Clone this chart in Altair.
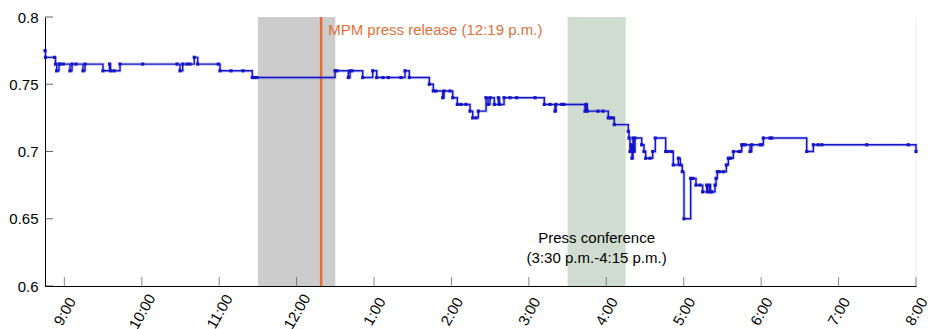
import altair as alt
import pandas as pd

DAY = "2020-01-01"

# Intraday quotes (24h clock) and traded level
times = [
    "08:45:00", "08:45:23", "08:52:22", "08:53:08", "08:54:04", "08:55:51", "08:56:38", "08:59:11",
    "09:04:22", "09:05:55", "09:09:01", "09:14:27", "09:16:00", "09:29:57", "09:35:00", "09:35:46",
    "09:38:28", "09:43:08", "10:00:43", "10:27:18", "10:29:38", "10:31:43", "10:35:03", "10:37:22",
    "10:40:42", "10:43:20", "10:59:18", "11:00:37", "11:09:09", "11:18:27", "11:25:39", "11:27:21",
    "11:29:18", "12:29:45", "12:31:18", "12:40:03", "12:41:22", "12:42:55", "12:51:13", "12:58:58",
    "13:02:04", "13:06:57", "13:11:03", "13:20:54", "13:24:00", "13:27:20", "13:42:50", "13:45:56",
    "13:48:01", "13:53:13", "13:54:13", "13:58:52", "14:00:58", "14:04:32", "14:07:24", "14:11:17",
    "14:14:23", "14:16:28", "14:19:02", "14:20:49", "14:26:47", "14:28:20", "14:29:53", "14:33:13",
    "14:36:19", "14:37:15", "14:40:44", "14:45:23", "14:50:34", "15:04:45", "15:11:57", "15:16:22",
    "15:20:15", "15:21:02", "15:25:27", "15:27:14", "15:43:30", "15:44:16", "15:45:17", "15:53:34",
    "15:57:27", "16:01:33", "16:03:13", "16:05:09", "16:06:10", "16:17:01", "16:17:34", "16:18:21",
    "16:19:08", "16:19:54", "16:20:41", "16:21:27", "16:22:14", "16:27:25", "16:29:12", "16:30:31",
    "16:33:51", "16:35:56", "16:37:57", "16:46:01", "16:47:48", "16:50:40", "16:51:54", "16:55:47",
    "16:57:20", "16:58:53", "17:00:12", "17:05:23", "17:07:10", "17:09:30", "17:12:36", "17:14:41",
    "17:17:47", "17:18:34", "17:19:58", "17:20:45", "17:21:55", "17:24:15", "17:25:01", "17:26:02",
    "17:27:35", "17:30:41", "17:33:01", "17:34:34", "17:36:17", "17:38:26", "17:42:51", "17:43:38",
    "17:44:57", "17:45:58", "17:47:31", "17:51:23", "17:52:42", "17:59:08", "18:00:27", "18:01:41",
    "18:06:52", "18:08:11", "18:35:19", "18:40:26", "18:44:04", "18:46:56", "19:21:48", "19:54:02",
    "20:00:00",
]
prices = [
    0.775, 0.77, 0.77, 0.765, 0.76, 0.765, 0.765, 0.765,
    0.76, 0.765, 0.765, 0.76, 0.765, 0.76, 0.765, 0.76,
    0.76, 0.765, 0.765, 0.765, 0.76, 0.765, 0.765, 0.765,
    0.77, 0.765, 0.765, 0.76, 0.76, 0.76, 0.755, 0.755,
    0.755, 0.76, 0.76, 0.755, 0.76, 0.76, 0.755, 0.76,
    0.755, 0.755, 0.755, 0.755, 0.76, 0.755, 0.75, 0.745,
    0.745, 0.74, 0.745, 0.745, 0.74, 0.735, 0.735, 0.735,
    0.73, 0.725, 0.725, 0.73, 0.74, 0.735, 0.74, 0.735,
    0.74, 0.735, 0.74, 0.74, 0.74, 0.74, 0.735, 0.735,
    0.73, 0.735, 0.735, 0.735, 0.73, 0.735, 0.73, 0.73,
    0.73, 0.725, 0.725, 0.725, 0.72, 0.715, 0.71, 0.70,
    0.705, 0.695, 0.71, 0.70, 0.71, 0.705, 0.70, 0.695,
    0.695, 0.70, 0.71, 0.70, 0.70, 0.70, 0.69, 0.695,
    0.69, 0.685, 0.65, 0.68, 0.68, 0.675, 0.675, 0.67,
    0.675, 0.67, 0.675, 0.67, 0.67, 0.675, 0.68, 0.685,
    0.685, 0.685, 0.69, 0.695, 0.695, 0.70, 0.70, 0.70,
    0.705, 0.705, 0.705, 0.70, 0.705, 0.705, 0.705, 0.71,
    0.71, 0.71, 0.70, 0.705, 0.705, 0.705, 0.705, 0.705,
    0.70,
]

# Shaded event windows
band_start = ["11:30", "15:30"]
band_end = ["12:30", "16:15"]
band_color = ["#cccccc", "#cfdccf"]

release_time = "12:19"
release_label = "MPM press release (12:19 p.m.)"
conference_time = "15:52:30"
conference_label = ["Press conference", "(3:30 p.m.-4:15 p.m.)"]

hour_ticks = [9, 10, 11, 12, 13, 14, 15, 16, 17, 18, 19, 20]
y_ticks = [0.6, 0.65, 0.7, 0.75, 0.8]

FONT = "Liberation Sans"
LINE_BLUE = "#1414c8"
ORANGE = "#e0703a"


def stamp(hhmm):
    return f"{DAY}T{hhmm}" if hhmm.count(":") == 2 else f"{DAY}T{hhmm}:00"


def dt(h, m=0):
    return alt.DateTime(year=2020, month=1, date=1, hours=h, minutes=m)


quotes = pd.DataFrame({"t": [stamp(s) for s in times], "price": prices})
bands = pd.DataFrame({
    "start": [stamp(s) for s in band_start],
    "end": [stamp(s) for s in band_end],
    "color": band_color,
})
release = pd.DataFrame({"t": [stamp(release_time)], "y": [0.79], "label": [release_label]})
conference = pd.DataFrame({"t": [stamp(conference_time)], "y": [0.6355], "label": [conference_label]})
xticks = pd.DataFrame({"t": [stamp(f"{h:02d}:00") for h in hour_ticks]})
yticks = pd.DataFrame({"v": y_ticks})
frame = pd.DataFrame({"t": [stamp("20:00")]})

x_scale = alt.Scale(domain=[dt(8, 45), dt(20, 0)])
y_scale = alt.Scale(domain=[0.6, 0.8], nice=False, zero=False)

x_axis = alt.Axis(
    values=[dt(h) for h in hour_ticks], format="%-I:%M", title=None,
    labelAngle=-60, labelAlign="center", labelBaseline="middle", labelPadding=25,
    ticks=False, grid=False, domainColor="black", labelFlush=False, labelOverlap=False,
)
y_axis = alt.Axis(
    values=y_ticks, format=".2~f", title=None, ticks=False, grid=False,
    labelPadding=7, domainColor="black", labelFlush=False,
)

band_layer = alt.Chart(bands).mark_rect().encode(
    x=alt.X("start:T", scale=x_scale, axis=x_axis),
    x2="end:T",
    color=alt.Color("color:N", scale=None),
)

edge_layer = alt.Chart(frame).mark_rule(color="#eeeeee", strokeWidth=1).encode(
    x=alt.X("t:T", scale=x_scale),
)

release_rule = alt.Chart(release).mark_rule(color=ORANGE, strokeWidth=2.5).encode(
    x=alt.X("t:T", scale=x_scale),
)

halo = alt.Chart(quotes).mark_line(
    interpolate="step-after", color="#5a5ae0", strokeWidth=3.2, opacity=0.3,
).encode(
    x=alt.X("t:T", scale=x_scale),
    y=alt.Y("price:Q", scale=y_scale, axis=y_axis),
)

line = alt.Chart(quotes).mark_line(
    interpolate="step-after", color=LINE_BLUE, strokeWidth=1.4,
).encode(
    x=alt.X("t:T", scale=x_scale),
    y=alt.Y("price:Q", scale=y_scale),
)

dots = alt.Chart(quotes).mark_point(
    filled=True, size=10, color=LINE_BLUE, opacity=1, shape="square",
).encode(
    x=alt.X("t:T", scale=x_scale),
    y=alt.Y("price:Q", scale=y_scale),
)

release_text = alt.Chart(release).mark_text(
    align="left", baseline="middle", dx=7, color=ORANGE, fontSize=15, font=FONT,
).encode(
    x=alt.X("t:T", scale=x_scale),
    y=alt.Y("y:Q", scale=y_scale),
    text="label:N",
)

conference_text = alt.Chart(conference).mark_text(
    align="center", baseline="middle", color="black", fontSize=15, font=FONT, lineHeight=20,
).encode(
    x=alt.X("t:T", scale=x_scale),
    y=alt.Y("y:Q", scale=y_scale),
    text="label",
)

x_tick_marks = alt.Chart(xticks).mark_tick(
    orient="vertical", color="#555555", size=9, thickness=1,
).encode(
    x=alt.X("t:T", scale=x_scale),
    y=alt.value(269 - 4.5),
)

y_tick_marks = alt.Chart(yticks).mark_tick(
    orient="horizontal", color="#222222", size=8, thickness=1,
).encode(
    y=alt.Y("v:Q", scale=y_scale),
    x=alt.value(4),
)

chart = alt.layer(
    band_layer, edge_layer, release_rule, halo, line, dots,
    release_text, conference_text, x_tick_marks, y_tick_marks,
).properties(
    width=871, height=269,
    autosize=alt.AutoSizeParams(type="none"),
    padding={"left": 45, "top": 17, "right": 12, "bottom": 43},
    background="white",
).configure_view(
    stroke=None,
).configure_axis(
    labelFont=FONT, labelFontSize=15, labelColor="black", domainWidth=1,
)

chart.save("out.html", embed_options={"renderer": "svg", "actions": False})
